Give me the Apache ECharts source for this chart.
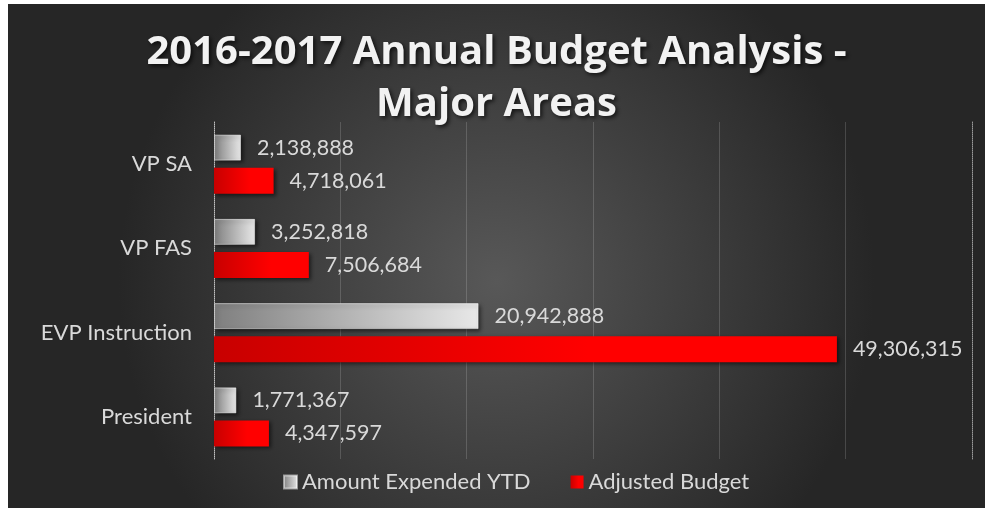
<!DOCTYPE html>
<html>
<head>
<meta charset="utf-8">
<script src="https://cdn.jsdelivr.net/npm/echarts@6/dist/echarts.min.js"></script>
<style>
html,body{margin:0;padding:0;background:#fff;}
#chart{position:absolute;left:8px;top:4px;width:977px;height:504px;}
</style>
</head>
<body>
<div id="chart"></div>
<script>
const categories = ['President', 'EVP Instruction', 'VP FAS', 'VP SA'];
const expendedYTD = [1771367, 20942888, 3252818, 2138888];
const adjustedBudget = [4347597, 49306315, 7506684, 4718061];
const seriesNames = ['Amount Expended YTD', 'Adjusted Budget'];
const titleText = '2016-2017 Annual Budget Analysis -\nMajor Areas';

const chart = echarts.init(document.getElementById('chart'));
const fmt = v => Number(v).toLocaleString('en-US');
const greyGrad = {type:'linear',x:0,y:0,x2:1,y2:0,colorStops:[{offset:0,color:'#7f7f7f'},{offset:1,color:'#e8e8e8'}]};
const redGrad = {type:'linear',x:0,y:0,x2:1,y2:0,colorStops:[{offset:0,color:'#c80000'},{offset:0.6,color:'#ff0000'},{offset:1,color:'#ff0000'}]};
const labelStyle = {show:true,position:'right',distance:16,color:'#d9d9d9',fontSize:21.5,fontFamily:'Lato',formatter:p=>fmt(p.value)};
const shadow = {shadowBlur:4,shadowOffsetX:2,shadowOffsetY:2,shadowColor:'rgba(0,0,0,0.55)'};

chart.setOption({
  backgroundColor:{type:'radial',x:0.5,y:0.55,r:0.75,colorStops:[{offset:0,color:'#585858'},{offset:1,color:'#262626'}]},
  title:{text:titleText,left:'center',top:18,textStyle:{color:'#f2f2f2',fontSize:40,fontWeight:'bold',fontFamily:'Open Sans',lineHeight:52,textShadowColor:'rgba(0,0,0,0.7)',textShadowBlur:4,textShadowOffsetX:2,textShadowOffsetY:2}},
  legend:{bottom:10,left:270,itemWidth:13,itemHeight:13,itemGap:40,icon:'rect',textStyle:{color:'#d9d9d9',fontSize:22,fontFamily:'Lato'},data:seriesNames},
  grid:{left:206,right:13,top:118,bottom:49,containLabel:false},
  xAxis:{type:'value',min:0,max:60000000,interval:10000000,axisLabel:{show:false},axisTick:{show:false},axisLine:{show:false},
    splitLine:{show:true,lineStyle:{color:['rgba(255,255,255,0.0)','rgba(255,255,255,0.16)','rgba(255,255,255,0.16)','rgba(255,255,255,0.16)','rgba(255,255,255,0.16)','rgba(255,255,255,0.16)','rgba(255,255,255,0.0)'],width:1}}},
  yAxis:[
    {type:'category',data:categories,axisTick:{show:false},axisLine:{show:true,lineStyle:{color:'#bfbfbf',type:'dotted',width:1}},
     axisLabel:{color:'#d9d9d9',fontSize:22,fontFamily:'Lato',margin:22}},
    {type:'category',data:categories,position:'right',axisTick:{show:false},axisLabel:{show:false},axisLine:{show:true,lineStyle:{color:'#9a9a9a',type:'dotted',width:1}}}
  ],
  series:[
    {name:seriesNames[0],type:'bar',data:expendedYTD,barWidth:26,barGap:'27%',itemStyle:Object.assign({color:greyGrad,borderColor:'rgba(255,255,255,0.5)',borderWidth:1},shadow),label:labelStyle},
    {name:seriesNames[1],type:'bar',data:adjustedBudget,barWidth:26,barGap:'27%',itemStyle:Object.assign({color:redGrad},shadow),label:labelStyle}
  ]
});
</script>
</body>
</html>
